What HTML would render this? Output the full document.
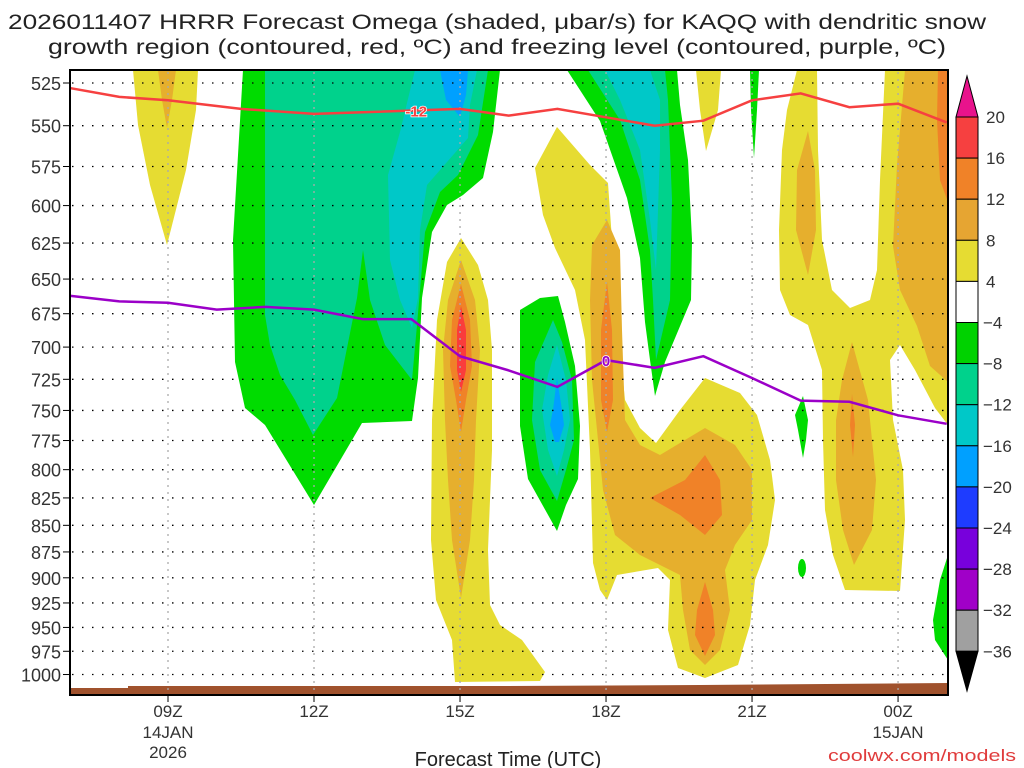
<!DOCTYPE html>
<html><head><meta charset="utf-8"><style>
html,body{margin:0;padding:0;background:#fff;}
svg{display:block;font-family:"Liberation Sans",sans-serif;}
</style></head><body>
<svg id="chart" width="1024" height="768" viewBox="0 0 1024 768" xmlns="http://www.w3.org/2000/svg">
<text x="497" y="29" font-size="21" text-anchor="middle" textLength="978" lengthAdjust="spacingAndGlyphs" fill="#222">2026011407 HRRR Forecast Omega (shaded, μbar/s) for KAQQ with dendritic snow</text>
<text x="497" y="54" font-size="21" text-anchor="middle" textLength="898" lengthAdjust="spacingAndGlyphs" fill="#222">growth region (contoured, red, ºC) and freezing level (contoured, purple, ºC)</text>
<g id="fills">
<path fill="#e6dc32" d="M133,70 L198,70 L196,110 L186,170 L167,245 L150,185 L138,125 Z"/>
<path fill="#e6af2d" d="M158,70 L176,70 L172,100 L167,128 L162,100 Z"/>
<path fill="#00dc00" d="M243,70 L500,70 L493,132 L483,178 L463,195 L447,205 L432,232 L422,298 L418,378 L412,421 L362,423 L314,505 L265,425 L245,408 L235,362 L233,240 Z"/>
<path fill="#00d28c" d="M265,70 L488,70 L478,135 L458,175 L440,192 L425,232 L417,325 L412,380 L385,345 L370,300 L363,250 L357,298 L337,398 L313,435 L295,400 L280,375 L270,345 L265,315 Z"/>
<path fill="#00c8c8" d="M415,70 L477,70 L470,105 L468,138 L447,162 L427,185 L420,230 L418,298 L412,328 L400,300 L390,260 L388,175 L400,132 Z"/>
<path fill="#00a0ff" d="M440,70 L468,70 L466,95 L460,117 L446,100 Z"/>
<path fill="#e6dc32" d="M461,238 L478,265 L488,300 L492,350 L492,450 L488,550 L490,605 L500,625 L522,640 L545,672 L540,681 L455,682 L452,640 L436,600 L431,540 L432,420 L437,320 L447,262 Z"/>
<path fill="#e6af2d" d="M461,260 L475,300 L480,350 L476,420 L474,480 L470,540 L461,598 L452,540 L448,480 L445,420 L443,350 L448,300 Z"/>
<path fill="#f08228" d="M461,284 L470,320 L472,366 L466,400 L461,432 L456,400 L450,366 L452,320 Z"/>
<path fill="#fa3c3c" d="M461,306 L466,330 L466,370 L461,392 L457,370 L457,330 Z"/>
<path fill="#00dc00" d="M520,310 L540,298 L558,296 L565,322 L575,366 L580,426 L578,479 L566,505 L557,531 L528,479 L520,426 Z"/>
<path fill="#00d28c" d="M553,320 L562,342 L572,380 L574,440 L566,470 L557,501 L540,470 L532,420 L535,362 Z"/>
<path fill="#00c8c8" d="M557,345 L566,380 L570,420 L564,450 L557,476 L548,450 L542,410 L548,375 Z"/>
<path fill="#00a0ff" d="M557,378 L562,410 L564,425 L559,442 L555,442 L550,425 L553,410 Z"/>
<path fill="#00dc00" d="M567,70 L677,70 L680,105 L688,160 L692,240 L691,300 L665,362 L655,396 L650,360 L645,322 L640,258 L627,198 L600,121 Z"/>
<path fill="#00d28c" d="M588,70 L665,70 L668,100 L672,200 L670,300 L656,360 L653,300 L650,250 L640,180 L620,120 Z"/>
<path fill="#00c8c8" d="M605,70 L650,70 L660,100 L660,150 L656,270 L650,220 L640,150 L620,100 Z"/>
<path fill="#e6dc32" d="M557,127 L590,165 L608,183 L612,240 L618,330 L625,400 L640,428 L656,443 L680,410 L705,378 L740,393 L757,415 L770,460 L775,500 L768,545 L755,580 L750,625 L738,665 L705,678 L678,668 L668,630 L670,580 L658,568 L617,575 L607,600 L600,590 L593,563 L590,450 L585,340 L575,290 L555,248 L543,215 L535,168 Z"/>
<path fill="#e6af2d" d="M607,220 L620,250 L622,330 L625,420 L640,445 L660,455 L705,428 L735,445 L752,470 L752,520 L735,545 L725,570 L730,610 L720,650 L705,665 L690,650 L683,610 L680,575 L640,555 L615,535 L603,490 L598,440 L592,380 L590,300 L592,245 Z"/>
<path fill="#f08228" d="M607,282 L612,330 L613,400 L607,432 L601,400 L601,330 Z"/>
<path fill="#f08228" d="M650,498 L685,480 L705,455 L720,480 L722,515 L705,535 L680,515 Z"/>
<path fill="#f08228" d="M705,582 L713,610 L715,635 L705,656 L695,635 L697,610 Z"/>
<path fill="#e6dc32" d="M696,70 L721,70 L718,110 L706,151 L700,110 Z"/>
<path fill="#00dc00" d="M750,70 L759,70 L757,110 L754,158 L751,110 Z"/>
<path fill="#e6dc32" d="M797,70 L817,70 L818,150 L822,240 L832,290 L850,308 L870,300 L877,270 L880,180 L885,70 L948,70 L948,425 L935,408 L915,370 L900,345 L890,360 L893,420 L903,470 L905,520 L900,591 L845,590 L833,555 L825,510 L823,440 L822,370 L808,325 L790,315 L780,290 L779,230 L782,150 L787,110 Z"/>
<path fill="#e6af2d" d="M808,131 L815,170 L816,230 L808,275 L796,230 L797,170 Z"/>
<path fill="#e6af2d" d="M905,70 L948,70 L948,382 L930,366 L917,326 L900,290 L893,246 L897,165 Z"/>
<path fill="#f08228" d="M938,70 L948,70 L948,202 L940,180 L937,120 Z"/>
<path fill="#e6af2d" d="M852,342 L868,400 L876,480 L872,530 L854,565 L843,530 L836,480 L836,420 L842,380 Z"/>
<path fill="#f08228" d="M852,394 L855,425 L853,457 L850,425 Z"/>
<path fill="#00dc00" d="M803,396 L808,420 L806,440 L803,458 L798,430 L795,415 Z"/>
<ellipse fill="#00dc00" cx="802" cy="568" rx="4" ry="9"/>
<path fill="#00dc00" d="M948,555 L940,580 L933,620 L935,640 L948,660 Z"/>
</g>
<path fill="#a0522d" d="M70,688 L128,688 L128,686 L500,686 L700,685 L948,683 L948,695 L70,695 Z"/>
<g id="grid"></g>
<g id="lines"></g>
<rect x="70" y="70" width="878" height="625" fill="none" stroke="#000" stroke-width="2"/>
<g id="axes"></g>
<text x="508" y="766" font-size="20" text-anchor="middle" fill="#222">Forecast Time (UTC)</text>
<text x="1016" y="761" font-size="17" text-anchor="end" fill="#e03c3c" textLength="188" lengthAdjust="spacingAndGlyphs">coolwx.com/models</text>
<g id="cbar"></g>
</svg>
<script>
const NS="http://www.w3.org/2000/svg";
const pLevels=[525,550,575,600,625,650,675,700,725,750,775,800,825,850,875,900,925,950,975,1000];
const xTickHours=[9,12,15,18,21,24];
const xTickLabels=["09Z","12Z","15Z","18Z","21Z","00Z"];
const xTickSub1=["14JAN","","","","","15JAN"];
const xTickSub2=["2026","","","","",""];
const dgzHours=[7,8,9,10.5,12,13,15,16,17,18,19,20,21,22,23,24,25];
const dgzPres=[528,533,535,540,543,542,540,544,540,545,550,547,535,531,539,537,548];
const frzHours=[7,8,9,10,11,12,13,14,15,16,17,18,19,20,21,22,23,24,25];
const frzPres=[662,666,667,672,670,672,679,679,707,718,731,710,716,707,724,742,743,754,761];
const cbLevels=[20,16,12,8,4,-4,-8,-12,-16,-20,-24,-28,-32,-36];
const cbColors=["#f64040","#f08228","#e6a532","#e6dc32","#ffffff","#00d200","#00d28c","#00c8c8","#00a0ff","#1e3cff","#7800dc","#a000c8","#a0a0a0"];

function X(h){return 168+(h-9)*48.67;}
function Y(p){return 83+918*Math.log(p/525);}
function mk(tag,attrs,parent){const e=document.createElementNS(NS,tag);for(const k in attrs)e.setAttribute(k,attrs[k]);parent.appendChild(e);return e;}

const grid=document.getElementById('grid');
pLevels.forEach(p=>{
  const l=mk('line',{x1:72,x2:946,y1:Y(p),y2:Y(p),stroke:'#000','stroke-width':1.3,'stroke-dasharray':'1.5 8.5'},grid);
  
  
});
xTickHours.forEach(h=>{
  const l=mk('line',{x1:X(h),x2:X(h),y1:72,y2:693,stroke:'#aaa','stroke-width':1.3,'stroke-dasharray':'2 5'},grid);
  
  
});

const lines=document.getElementById('lines');
function pts(hs,ps){return hs.map((h,i)=>X(h).toFixed(1)+','+Y(ps[i]).toFixed(1)).join(' ');}
const dgz=mk('polyline',{points:pts(dgzHours,dgzPres),fill:'none',stroke:'#f64040','stroke-width':2.5},lines);


const dl=mk('text',{x:X(14.1),y:Y(541)+6,'font-size':15,'font-weight':'bold','text-anchor':'middle',fill:'#f64040',stroke:'#fff','stroke-width':1.5,'paint-order':'stroke'},lines);
dl.textContent='-12';


const frz=mk('polyline',{points:pts(frzHours,frzPres),fill:'none',stroke:'#9b00c8','stroke-width':2.5},lines);


const fl=mk('text',{x:X(18),y:Y(710)+6,'font-size':15,'font-weight':'bold','text-anchor':'middle',fill:'#9b00c8',stroke:'#fff','stroke-width':1.5,'paint-order':'stroke'},lines);
fl.textContent='0';



const axes=document.getElementById('axes');
pLevels.forEach(p=>{
  const t=mk('line',{x1:63,x2:70,y1:Y(p),y2:Y(p),stroke:'#000','stroke-width':1},axes);
  
  
  const tx=mk('text',{x:61,y:Y(p)+7,'font-size':18,'text-anchor':'end',fill:'#333'},axes);
  tx.textContent=String(p);
  
  
});
xTickHours.forEach((h,i)=>{
  const t=mk('line',{x1:X(h),x2:X(h),y1:695,y2:702,stroke:'#000','stroke-width':1},axes);
  
  
  [[xTickLabels[i],717],[xTickSub1[i],738],[xTickSub2[i],758]].forEach(([s,y])=>{
    if(!s)return;
    const tx=mk('text',{x:X(h),y:y,'font-size':17,'text-anchor':'middle',fill:'#333'},axes);
    tx.textContent=s;
    
    
  });
});

const cb=document.getElementById('cbar');
const cbTop=117,cbStep=41.1,cx0=956,cw=22;
const up=mk('path',{d:`M${cx0},${cbTop} L${cx0+cw/2},76 L${cx0+cw},${cbTop} Z`,fill:'#e8138c',stroke:'#000','stroke-width':1},cb);


cbColors.forEach((c,i)=>{
  const r=mk('rect',{x:cx0,y:cbTop+i*cbStep,width:cw,height:cbStep,fill:c,stroke:'#000','stroke-width':1},cb);
  
  
});
const yb=cbTop+cbColors.length*cbStep;
const dn=mk('path',{d:`M${cx0},${yb} L${cx0+cw/2},691 L${cx0+cw},${yb} Z`,fill:'#000',stroke:'#000','stroke-width':1},cb);


cbLevels.forEach((v,i)=>{
  const tx=mk('text',{x:v<0?983:986,y:cbTop+i*cbStep+6,'font-size':17,fill:'#333'},cb);
  tx.textContent=v<0?'\u2212'+Math.abs(v):String(v);
  
  
});
</script>
</body></html>
